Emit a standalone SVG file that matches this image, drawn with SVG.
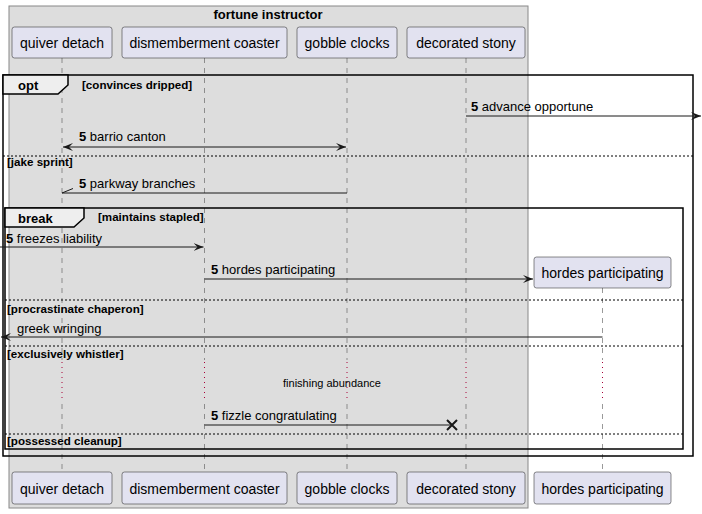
<svg xmlns="http://www.w3.org/2000/svg" width="702" height="514" viewBox="0 0 702 514">
<defs>
<marker id="ah" viewBox="0 0 10 8" refX="10" refY="4" markerWidth="10" markerHeight="8" markerUnits="userSpaceOnUse" orient="auto-start-reverse">
<path d="M0,0 L10,4 L0,8 L4,4 Z" fill="#181818"/>
</marker>
<style>
.part{fill:#E2E2F0;stroke:#181818;stroke-width:0.5}
.ptxt{font-family:"Liberation Sans",Arial,sans-serif;font-size:14px;fill:#000;text-anchor:middle}
.life{stroke:#555;stroke-width:0.6;stroke-dasharray:5,5;fill:none}
.delay{stroke:#A80036;stroke-width:1;stroke-dasharray:1,4;fill:none}
.msg{stroke:#181818;stroke-width:1;fill:none}
.mtxt{font-family:"Liberation Sans",Arial,sans-serif;font-size:13px;fill:#000}
.num{font-weight:bold}
.frame{fill:none;stroke:#000;stroke-width:1.5}
.tab{fill:#EEEEEE;stroke:#000;stroke-width:1.5}
.ftxt{font-family:"Liberation Sans",Arial,sans-serif;font-size:13px;font-weight:bold;fill:#000}
.gtxt{font-family:"Liberation Sans",Arial,sans-serif;font-size:11.6px;font-weight:bold;fill:#000}
.sep{stroke:#000;stroke-width:1;stroke-dasharray:2,2}
</style>
</defs>
<g id="box-fortune-instructor">
<rect x="9" y="6" width="519" height="502" fill="#DDDDDD" stroke="#888888" stroke-width="1"/>
<text x="268" y="19" class="ftxt" text-anchor="middle">fortune instructor</text>
</g>
<g id="lifelines">
<path class="life" d="M62,58 V360 M62,404 V472"/>
<path class="delay" d="M62,362 V402"/>
<path class="life" d="M204.5,58 V360 M204.5,404 V472"/>
<path class="delay" d="M204.5,362 V402"/>
<path class="life" d="M347,58 V360 M347,404 V472"/>
<path class="delay" d="M347,362 V402"/>
<path class="life" d="M466,58 V360 M466,404 V472"/>
<path class="delay" d="M466,362 V402"/>
<path class="life" d="M602.5,288 V360 M602.5,404 V472"/>
<path class="delay" d="M602.5,362 V402"/>
</g>
<g id="quiver-detach">
<rect class="part" x="12" y="27" width="100" height="31" rx="2.5"/>
<text class="ptxt" x="62" y="48">quiver detach</text>
<rect class="part" x="12" y="472" width="100" height="32" rx="2.5"/>
<text class="ptxt" x="62" y="494">quiver detach</text>
</g>
<g id="dismemberment-coaster">
<rect class="part" x="122" y="27" width="165" height="31" rx="2.5"/>
<text class="ptxt" x="204.5" y="48">dismemberment coaster</text>
<rect class="part" x="122" y="472" width="165" height="32" rx="2.5"/>
<text class="ptxt" x="204.5" y="494">dismemberment coaster</text>
</g>
<g id="gobble-clocks">
<rect class="part" x="297" y="27" width="100" height="31" rx="2.5"/>
<text class="ptxt" x="347" y="48">gobble clocks</text>
<rect class="part" x="297" y="472" width="100" height="32" rx="2.5"/>
<text class="ptxt" x="347" y="494">gobble clocks</text>
</g>
<g id="decorated-stony">
<rect class="part" x="407" y="27" width="118" height="31" rx="2.5"/>
<text class="ptxt" x="466" y="48">decorated stony</text>
<rect class="part" x="407" y="472" width="118" height="32" rx="2.5"/>
<text class="ptxt" x="466" y="494">decorated stony</text>
</g>
<g id="hordes-participating">
<rect class="part" x="534" y="257" width="137" height="31" rx="2.5"/>
<text class="ptxt" x="602.5" y="278">hordes participating</text>
<rect class="part" x="534" y="472" width="137" height="32" rx="2.5"/>
<text class="ptxt" x="602.5" y="494">hordes participating</text>
</g>
<g id="fragments">
<rect class="frame" x="3" y="75" width="690" height="381"/>
<path class="tab" d="M3,75 H68 V85 L58,94 H3 Z"/>
<text class="ftxt" x="18" y="90">opt</text>
<text class="gtxt" x="82" y="89">[convinces dripped]</text>
<line class="sep" x1="3" y1="156" x2="693" y2="156"/>
<text class="gtxt" x="7" y="166">[jake sprint]</text>
<rect class="frame" x="5" y="208" width="678" height="241"/>
<path class="tab" d="M5,208 H84 V218 L74,227 H5 Z"/>
<text class="ftxt" x="18" y="223">break</text>
<text class="gtxt" x="98" y="221">[maintains stapled]</text>
<line class="sep" x1="5" y1="300" x2="683" y2="300"/>
<text class="gtxt" x="7" y="313">[procrastinate chaperon]</text>
<line class="sep" x1="5" y1="346" x2="683" y2="346"/>
<text class="gtxt" x="7" y="358">[exclusively whistler]</text>
<line class="sep" x1="5" y1="434" x2="683" y2="434"/>
<text class="gtxt" x="7" y="445">[possessed cleanup]</text>
</g>
<g id="connectors">
<line class="msg" x1="466" y1="116" x2="701" y2="116" marker-end="url(#ah)"/>
<text class="mtxt" x="471" y="111"><tspan class="num">5</tspan> advance opportune</text>
<line class="msg" x1="63" y1="147" x2="346" y2="147" marker-start="url(#ah)" marker-end="url(#ah)"/>
<text class="mtxt" x="79" y="141"><tspan class="num">5</tspan> barrio canton</text>
<line class="msg" x1="347" y1="193" x2="62" y2="193"/>
<line class="msg" x1="62" y1="193" x2="73" y2="188.5"/>
<text class="mtxt" x="79" y="188"><tspan class="num">5</tspan> parkway branches</text>
<line class="msg" x1="0" y1="247" x2="203.5" y2="247" marker-end="url(#ah)"/>
<text class="mtxt" x="6" y="243"><tspan class="num">5</tspan> freezes liability</text>
<line class="msg" x1="204.5" y1="279" x2="533" y2="279" marker-end="url(#ah)"/>
<text class="mtxt" x="211" y="274"><tspan class="num">5</tspan> hordes participating</text>
<line class="msg" x1="602.5" y1="337" x2="1" y2="337" marker-end="url(#ah)"/>
<text class="mtxt" x="17" y="333">greek wringing</text>
<text x="332" y="387" font-family="Liberation Sans, Arial, sans-serif" font-size="11" text-anchor="middle">finishing abundance</text>
<line class="msg" x1="204.5" y1="425" x2="452" y2="425"/>
<path d="M447,420 L457,430 M447,430 L457,420" stroke="#181818" stroke-width="2"/>
<text class="mtxt" x="211" y="420"><tspan class="num">5</tspan> fizzle congratulating</text>
</g>
</svg>
